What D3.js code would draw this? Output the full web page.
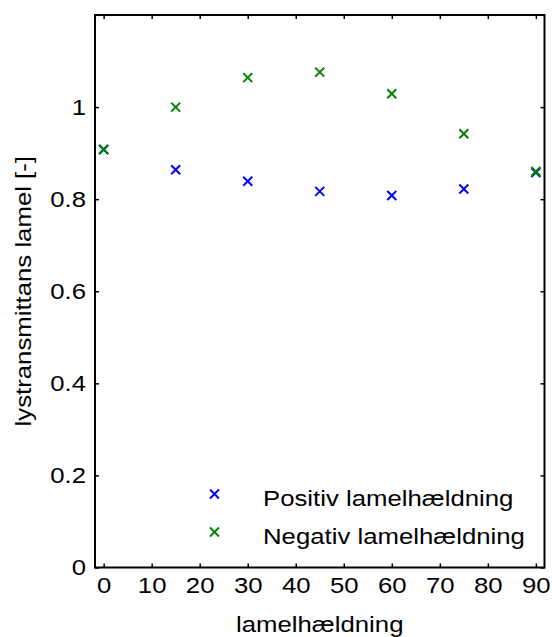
<!DOCTYPE html>
<html><head><meta charset="utf-8">
<script src="https://cdn.jsdelivr.net/npm/d3@7"></script>
<style>body{margin:0;background:#fff}svg{display:block}text{font-family:"Liberation Sans",Arial,sans-serif;fill:#000}</style>
</head><body><svg id="c" width="552" height="637"></svg>
<script>
const angles = [0, 15, 30, 45, 60, 75, 90];
const positiv = [0.908, 0.864, 0.839, 0.817, 0.808, 0.822, 0.858];
const negativ = [0.908, 1.000, 1.064, 1.076, 1.029, 0.942, 0.860];
const xTicks = [0, 10, 20, 30, 40, 50, 60, 70, 80, 90];
const yTicks = [0, 0.2, 0.4, 0.6, 0.8, 1];
const seriesNames = ["Positiv lamelhældning", "Negativ lamelhældning"];
const colors = ["#0000ff", "#008000"];

const svg = d3.select("#c");
const L = 95, R = 544.5, T = 15, B = 567.5;
const x = d3.scaleLinear().domain([-1.8, 91.8]).range([L, R]);
const y = d3.scaleLinear().domain([0, 1.2]).range([B, T]);
const fs = 23, sx = 1.12;

const gx = svg.append("g").attr("transform", `translate(0,${B})`)
  .call(d3.axisBottom(x).tickValues(xTicks).tickSizeInner(-4).tickSizeOuter(0).tickPadding(9).tickFormat(d3.format("d")));
const gxt = svg.append("g").attr("transform", `translate(0,${T})`)
  .call(d3.axisTop(x).tickValues(xTicks).tickSizeInner(-4).tickSizeOuter(0).tickFormat(""));
const gy = svg.append("g").attr("transform", `translate(${L},0)`)
  .call(d3.axisLeft(y).tickValues(yTicks).tickSizeInner(-4).tickSizeOuter(0).tickPadding(9).tickFormat(d => d === 0 ? "0" : d === 1 ? "1" : d3.format(".1f")(d)));
const gyr = svg.append("g").attr("transform", `translate(${R},0)`)
  .call(d3.axisRight(y).tickValues(yTicks).tickSizeInner(-4).tickSizeOuter(0).tickFormat(""));
[gx, gxt, gy, gyr].forEach(g => {
  g.select(".domain").remove();
  g.selectAll(".tick line").attr("stroke", "#000").attr("stroke-width", 1.5);
  g.selectAll("text").attr("font-size", fs).attr("fill", "#000").style("font-family", '"Liberation Sans",Arial,sans-serif')
    .attr("transform", `scale(${sx},1)`);
});
gx.selectAll("text").attr("dy", "0.71em");
gy.selectAll("text").attr("x", -9 / sx);

svg.append("rect").attr("x", L).attr("y", T).attr("width", R - L).attr("height", B - T)
  .attr("fill", "none").attr("stroke", "#000").attr("stroke-width", 2);

function cross(g, cx, cy, col, s) {
  g.append("path").attr("d", `M${cx - s},${cy - s}L${cx + s},${cy + s}M${cx - s},${cy + s}L${cx + s},${cy - s}`)
    .attr("stroke", col).attr("stroke-width", 2).attr("fill", "none");
}
const marks = svg.append("g");
[positiv, negativ].forEach((vals, i) => {
  vals.forEach((v, j) => cross(marks, x(angles[j]), y(v), colors[i], 4.5));
});

function stext(px, py, str, anchor) {
  return svg.append("text").attr("transform", `translate(${px},${py}) scale(${sx},1)`)
    .attr("text-anchor", anchor).attr("font-size", fs).text(str);
}

seriesNames.forEach((n, i) => {
  const ly = 494 + i * 38;
  cross(svg, 214.5, ly, colors[i], 4.5);
  stext(263, ly + 12, n, "start");
});

stext((L + R) / 2, 631.5, "lamelhældning", "middle");
svg.append("text").attr("transform", `translate(31,${(T + B) / 2}) rotate(-90) scale(${sx},1)`)
  .attr("text-anchor", "middle").attr("font-size", fs).text("lystransmittans lamel [-]");
</script></body></html>
